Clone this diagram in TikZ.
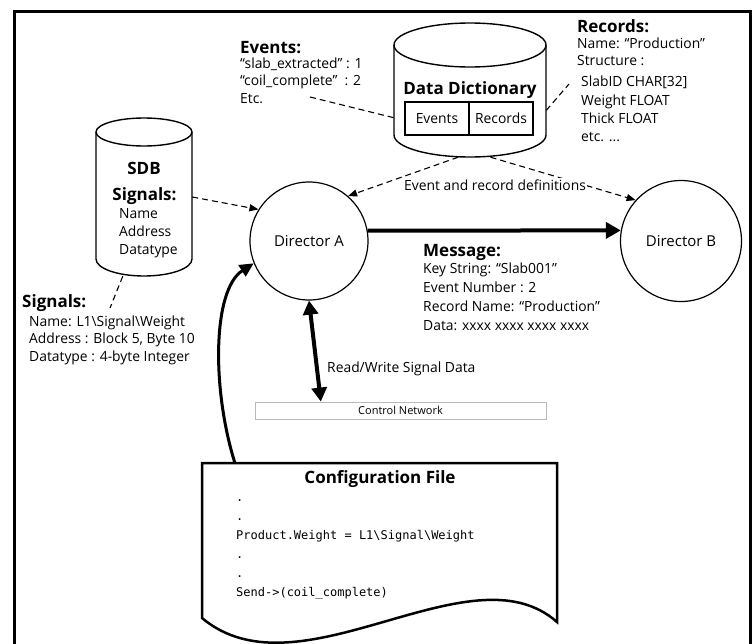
\documentclass[tikz,border=0pt]{standalone}
\usepackage{fontspec}
\setmainfont{Open Sans}
\newfontfamily\condfont{Open Sans}[FakeStretch=0.99]
\newfontfamily\codefont{DejaVu Sans Mono}
\usetikzlibrary{arrows.meta,calc}

\begin{document}
\begin{tikzpicture}[x=1pt,y=-1pt,
  body/.style={font=\condfont\fontsize{14}{17.5}\selectfont, inner sep=0pt, anchor=base west, align=left},
  head/.style={font=\bfseries\fontsize{17}{20}\selectfont, inner sep=0pt, anchor=base west},
  director/.style={circle, draw, line width=1.2pt, minimum size=118pt, inner sep=0pt, font=\fontsize{15}{18}\selectfont},
  cyl/.style={line width=1.4pt},
  hidden/.style={inner sep=0pt, draw=none},
  cell/.style={draw, line width=1.2pt, minimum width=64pt, minimum height=33pt, inner sep=0pt, font=\condfont\fontsize{14}{17}\selectfont},
  dashlink/.style={line width=1.1pt, dash pattern=on 6pt off 4pt},
  dasharrow/.style={dashlink, -{Triangle[length=9pt,width=7pt]}},
  heavy/.style={line width=4pt, -{Triangle[length=15pt,width=16pt]}},
  bothheavy/.style={line width=4pt, {Triangle[length=14pt,width=15pt]}-{Triangle[length=14pt,width=15pt]}},
]
\fill[white] (0,0) rectangle (754,643);
\useasboundingbox (0,0) rectangle (754,643);

% outer frame (open at the bottom)
\draw[line width=3pt] (14,660) -- (14,11) -- (750,11) -- (750,660);

% Data Dictionary cylinder
\node[hidden, minimum width=152pt, minimum height=134pt] (dd) at (470,90) {};
\draw[cyl] (470,45) ellipse[x radius=76pt, y radius=22pt];
\draw[cyl] (394,45) -- (394,135) arc[start angle=180, end angle=360, x radius=76pt, y radius=22pt] -- (546,45);
\node[font=\bfseries\fontsize{17}{20}\selectfont, inner sep=0pt, anchor=base] (ddTitle) at (470,94) {Data Dictionary};
\node[cell] (ddEvents) at (437,118.5) {Events};
\node[cell] (ddRecords) at (501,118.5) {Records};

% SDB cylinder
\node[hidden, minimum width=96pt, minimum height=158pt] (sdb) at (144,197) {};
\draw[cyl] (144,132) ellipse[x radius=48pt, y radius=14pt];
\draw[cyl] (96,132) -- (96,259) arc[start angle=180, end angle=360, x radius=48pt, y radius=17pt] -- (192,132);
\node[font=\bfseries\fontsize{17}{20}\selectfont, inner sep=0pt, anchor=base] (sdbTitle) at (144,174) {SDB};
\node[font=\bfseries\fontsize{17}{20}\selectfont, inner sep=0pt, anchor=base] (sdbSig) at (144.5,200) {Signals:};
% multi-line nodes below are placed by the baseline of their last line
\node[body, font=\condfont\fontsize{14}{18.3}\selectfont] (sdbList) at (119,254.9) {Name\\Address\\Datatype};

% directors
\node[director] (dirA) at (309,241) {Director A};
\node[director, minimum size=121pt] (dirB) at (681,241) {Director B};

% control network bar
\node[draw=gray!55, line width=0.8pt, minimum width=291pt, minimum height=17pt, inner sep=0pt,
      font=\fontsize{11}{13}\selectfont] (cn) at (400.5,410.5) {Control Network};

% configuration file document
\node[hidden, minimum width=355pt, minimum height=157pt] (cfg) at (379.5,541.5) {};
\draw[line width=2.5pt, line join=miter] (202,463) -- (557,463) -- (557,622)
  .. controls (470,545) and (300,700) .. (202,618) -- cycle;
\node[font=\bfseries\fontsize{17}{20}\selectfont, inner sep=0pt, anchor=base] (cfgTitle) at (380,483.3) {Configuration File};
\node[anchor=base west, inner sep=0pt, align=left, font=\codefont\fontsize{12}{19}\selectfont] (code) at (236,596.7)
  {.\\.\\Product.Weight = L1\textbackslash Signal\textbackslash Weight\\.\\.\\Send->(coil\_complete)};

% annotation texts
\node[head] (evHead) at (240,53.3) {Events:};
\node[body] (evBody) at (240,103.3) {“slab\_extracted” : 1\\“coil\_complete”\hspace{3.5pt} : 2\\Etc.};

\node[head] (recHead) at (577,32) {Records:};
\node[body, font=\condfont\fontsize{14}{16.7}\selectfont] (recBody) at (577,65) {Name: “Production”\\Structure :};
\node[body, font=\condfont\fontsize{14}{18.3}\selectfont] (recFields) at (581,141.6) {SlabID CHAR[32]\\Weight FLOAT\\Thick FLOAT\\etc. ...};

\node[head] (msgHead) at (423,256) {Message:};
\node[body, font=\condfont\fontsize{14}{19}\selectfont] (msgBody) at (423,330.3)
  {Key String: “Slab001”\\Event Number : 2\\Record Name: “Production”\\Data: xxxx xxxx xxxx xxxx};

\node[head] (sigHead) at (22,307.3) {Signals:};
\node[body, font=\condfont\fontsize{14}{17.8}\selectfont] (sigBody) at (29,361.6)
  {Name: L1\textbackslash Signal\textbackslash Weight\\Address : Block 5, Byte 10\\Datatype : 4-byte Integer};

\node[body] (rw) at (327,372.7) {Read/Write Signal Data};

% free ends of the annotation leaders
\coordinate (evTail) at (310,97);
\coordinate (recTail) at (569,84);
\coordinate (sigTail) at (110,308);

% dashed leaders and definition flows
\draw[dashlink] (evTail) -- (dd.200);
\draw[dashlink] (dd.345) -- (recTail);
\draw[dashlink] (sdb.255) -- (sigTail);
\draw[dasharrow] (sdb.east) -- (dirA.148);
\draw[dasharrow] (dd.260) -- (dirA.49);
\draw[dasharrow] (dd.287) -- (dirB.138);

% label sits on top of the flow lines
\node[body, fill=white, inner sep=1pt] (defs) at (403,190) {Event and record definitions};

% message, signal access and configuration flows
\draw[heavy] (dirA.10) -- (dirB.170);
\draw[bothheavy] (dirA.south) -- ($(cn.north west)!0.227!(cn.north east)$);
\draw[line width=3pt, -{Triangle[length=14pt,width=13pt]}]
  ($(cfg.north west)!0.093!(cfg.north east)$) .. controls (212,390) and (212,290) .. (dirA.202);
\end{tikzpicture}
\end{document}
